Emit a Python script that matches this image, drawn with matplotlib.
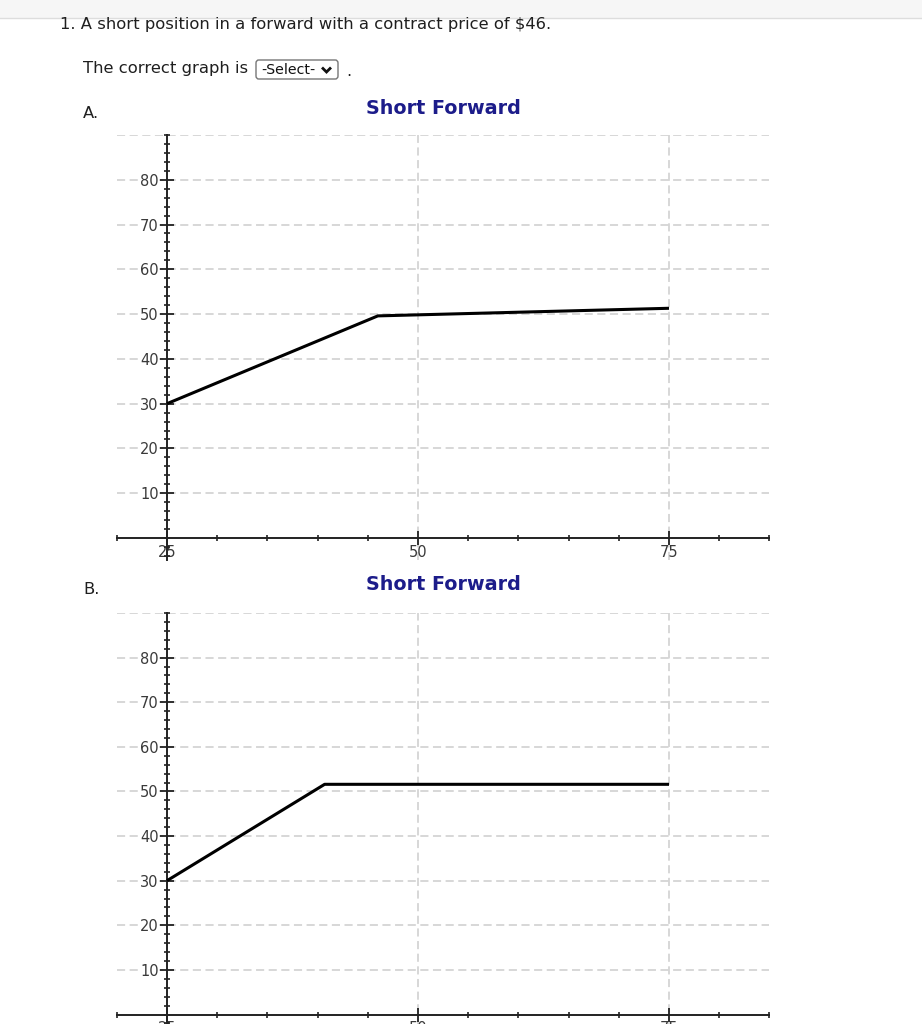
import matplotlib
matplotlib.use("Agg")
import matplotlib.pyplot as plt
from matplotlib.ticker import MultipleLocator, FixedLocator
from matplotlib.patches import FancyBboxPatch, Rectangle
from matplotlib.lines import Line2D

W, H = 922, 1024

# ---- data ----
question = "1. A short position in a forward with a contract price of $46."
prompt = "The correct graph is"
select_label = "-Select-"
chart_title = "Short Forward"
panel_labels = ["A.", "B."]

spot_a = [25, 46, 75]
payoff_a = [30, 49.6, 51.3]
spot_b = [25, 40.7, 75]
payoff_b = [30, 51.6, 51.6]

x_major = [25, 50, 75]
y_major = [10, 20, 30, 40, 50, 60, 70, 80]

fig = plt.figure(figsize=(W / 100, H / 100), dpi=100)
fig.patch.set_facecolor("white")

def fx(px):
    return px / W

def fy(py):
    return 1 - py / H

# top strip
fig.patches.append(Rectangle((0, fy(18)), 1, 18 / H, transform=fig.transFigure,
                             facecolor="#f6f6f6", edgecolor="none", zorder=0))
fig.lines.append(Line2D([0, 1], [fy(18), fy(18)], transform=fig.transFigure,
                        color="#dddddd", lw=1))

txtc = "#1f1f1f"
body = 11.8
fig.text(fx(60), fy(25), question, fontsize=body, color=txtc, va="center", ha="left",
         family="DejaVu Sans")
fig.text(fx(83), fy(69), prompt, fontsize=body, color=txtc, va="center", ha="left",
         family="DejaVu Sans")
# select box
box = FancyBboxPatch((fx(256), fy(79)), fx(338) - fx(256), (79 - 60) / H,
                     boxstyle="round,pad=0,rounding_size=0.003", transform=fig.transFigure,
                     facecolor="white", edgecolor="#767676", lw=1)
fig.patches.append(box)
fig.text(fx(261), fy(70), select_label, fontsize=10.2, color="#111111", va="center",
         ha="left", family="DejaVu Sans")
fig.lines.append(Line2D([fx(322), fx(326.5), fx(331)], [fy(67.5), fy(72), fy(67.5)],
                        transform=fig.transFigure, color="#111111", lw=2.0,
                        solid_capstyle="butt", solid_joinstyle="miter"))
fig.text(fx(346), fy(71), ".", fontsize=body, color=txtc, va="center", ha="left",
         family="DejaVu Sans")

def make_panel(y0, yscale, xs, ys, label, title_y, label_y):
    # y0: pixel of y=0, yscale: px per unit
    left = 116.8
    right = 769.4
    top = y0 - 90 * yscale
    bottom = y0 + 5 * yscale
    ax = fig.add_axes([fx(left), fy(bottom), (right - left) / W, (bottom - top) / H])
    ax.set_xlim(20, 85)
    ax.set_ylim(-5, 90)
    ax.set_facecolor("none")
    for s in ["top", "right"]:
        ax.spines[s].set_visible(False)
    ax.spines["left"].set_position(("data", 25))
    ax.spines["bottom"].set_position(("data", 0))
    for s in ["left", "bottom"]:
        ax.spines[s].set_color("#222222")
        ax.spines[s].set_linewidth(1.4)
    ax.xaxis.set_major_locator(FixedLocator(x_major))
    ax.xaxis.set_minor_locator(MultipleLocator(5))
    ax.yaxis.set_major_locator(FixedLocator(y_major))
    ax.yaxis.set_minor_locator(MultipleLocator(2))
    ax.tick_params(axis="both", which="major", direction="inout", length=10, width=1.3,
                   color="#222222", labelsize=10.5, labelcolor="#3a3a3a", pad=1)
    ax.tick_params(axis="both", which="minor", direction="inout", length=5, width=1.2,
                   color="#222222")
    ax.tick_params(axis="x", which="major", pad=0)
    ax.set_xticklabels([str(v) for v in x_major])
    ax.set_yticklabels([str(v) for v in y_major])
    # gridlines
    for v in [10, 20, 30, 40, 50, 60, 70, 80, 90]:
        ax.plot([20, 85], [v, v], color="#d4d4d4", lw=1.3, ls=(0, (4.5, 2.5)), zorder=0)
    for v in [50, 75]:
        ax.plot([v, v], [-5, 90], color="#d4d4d4", lw=1.3, ls=(0, (4.5, 2.5)), zorder=0)
    ax.plot(xs, ys, color="black", lw=2.2, solid_capstyle="butt", zorder=3)
    for t in ax.get_yticklabels():
        t.set_bbox(dict(facecolor="white", edgecolor="none", pad=0.3))
    fig.text(fx(443), fy(title_y), chart_title, fontsize=13.8, fontweight="bold",
             color="#1c1c8a", ha="center", va="center", family="DejaVu Sans")
    fig.text(fx(83), fy(label_y), label, fontsize=body, color=txtc, ha="left", va="center",
             family="DejaVu Sans")
    return ax

make_panel(538, 4.478, spot_a, payoff_a, panel_labels[0], 108, 113)
make_panel(1014.5, 4.461, spot_b, payoff_b, panel_labels[1], 585, 590)

fig.savefig("out.png", dpi=100, facecolor="white")
